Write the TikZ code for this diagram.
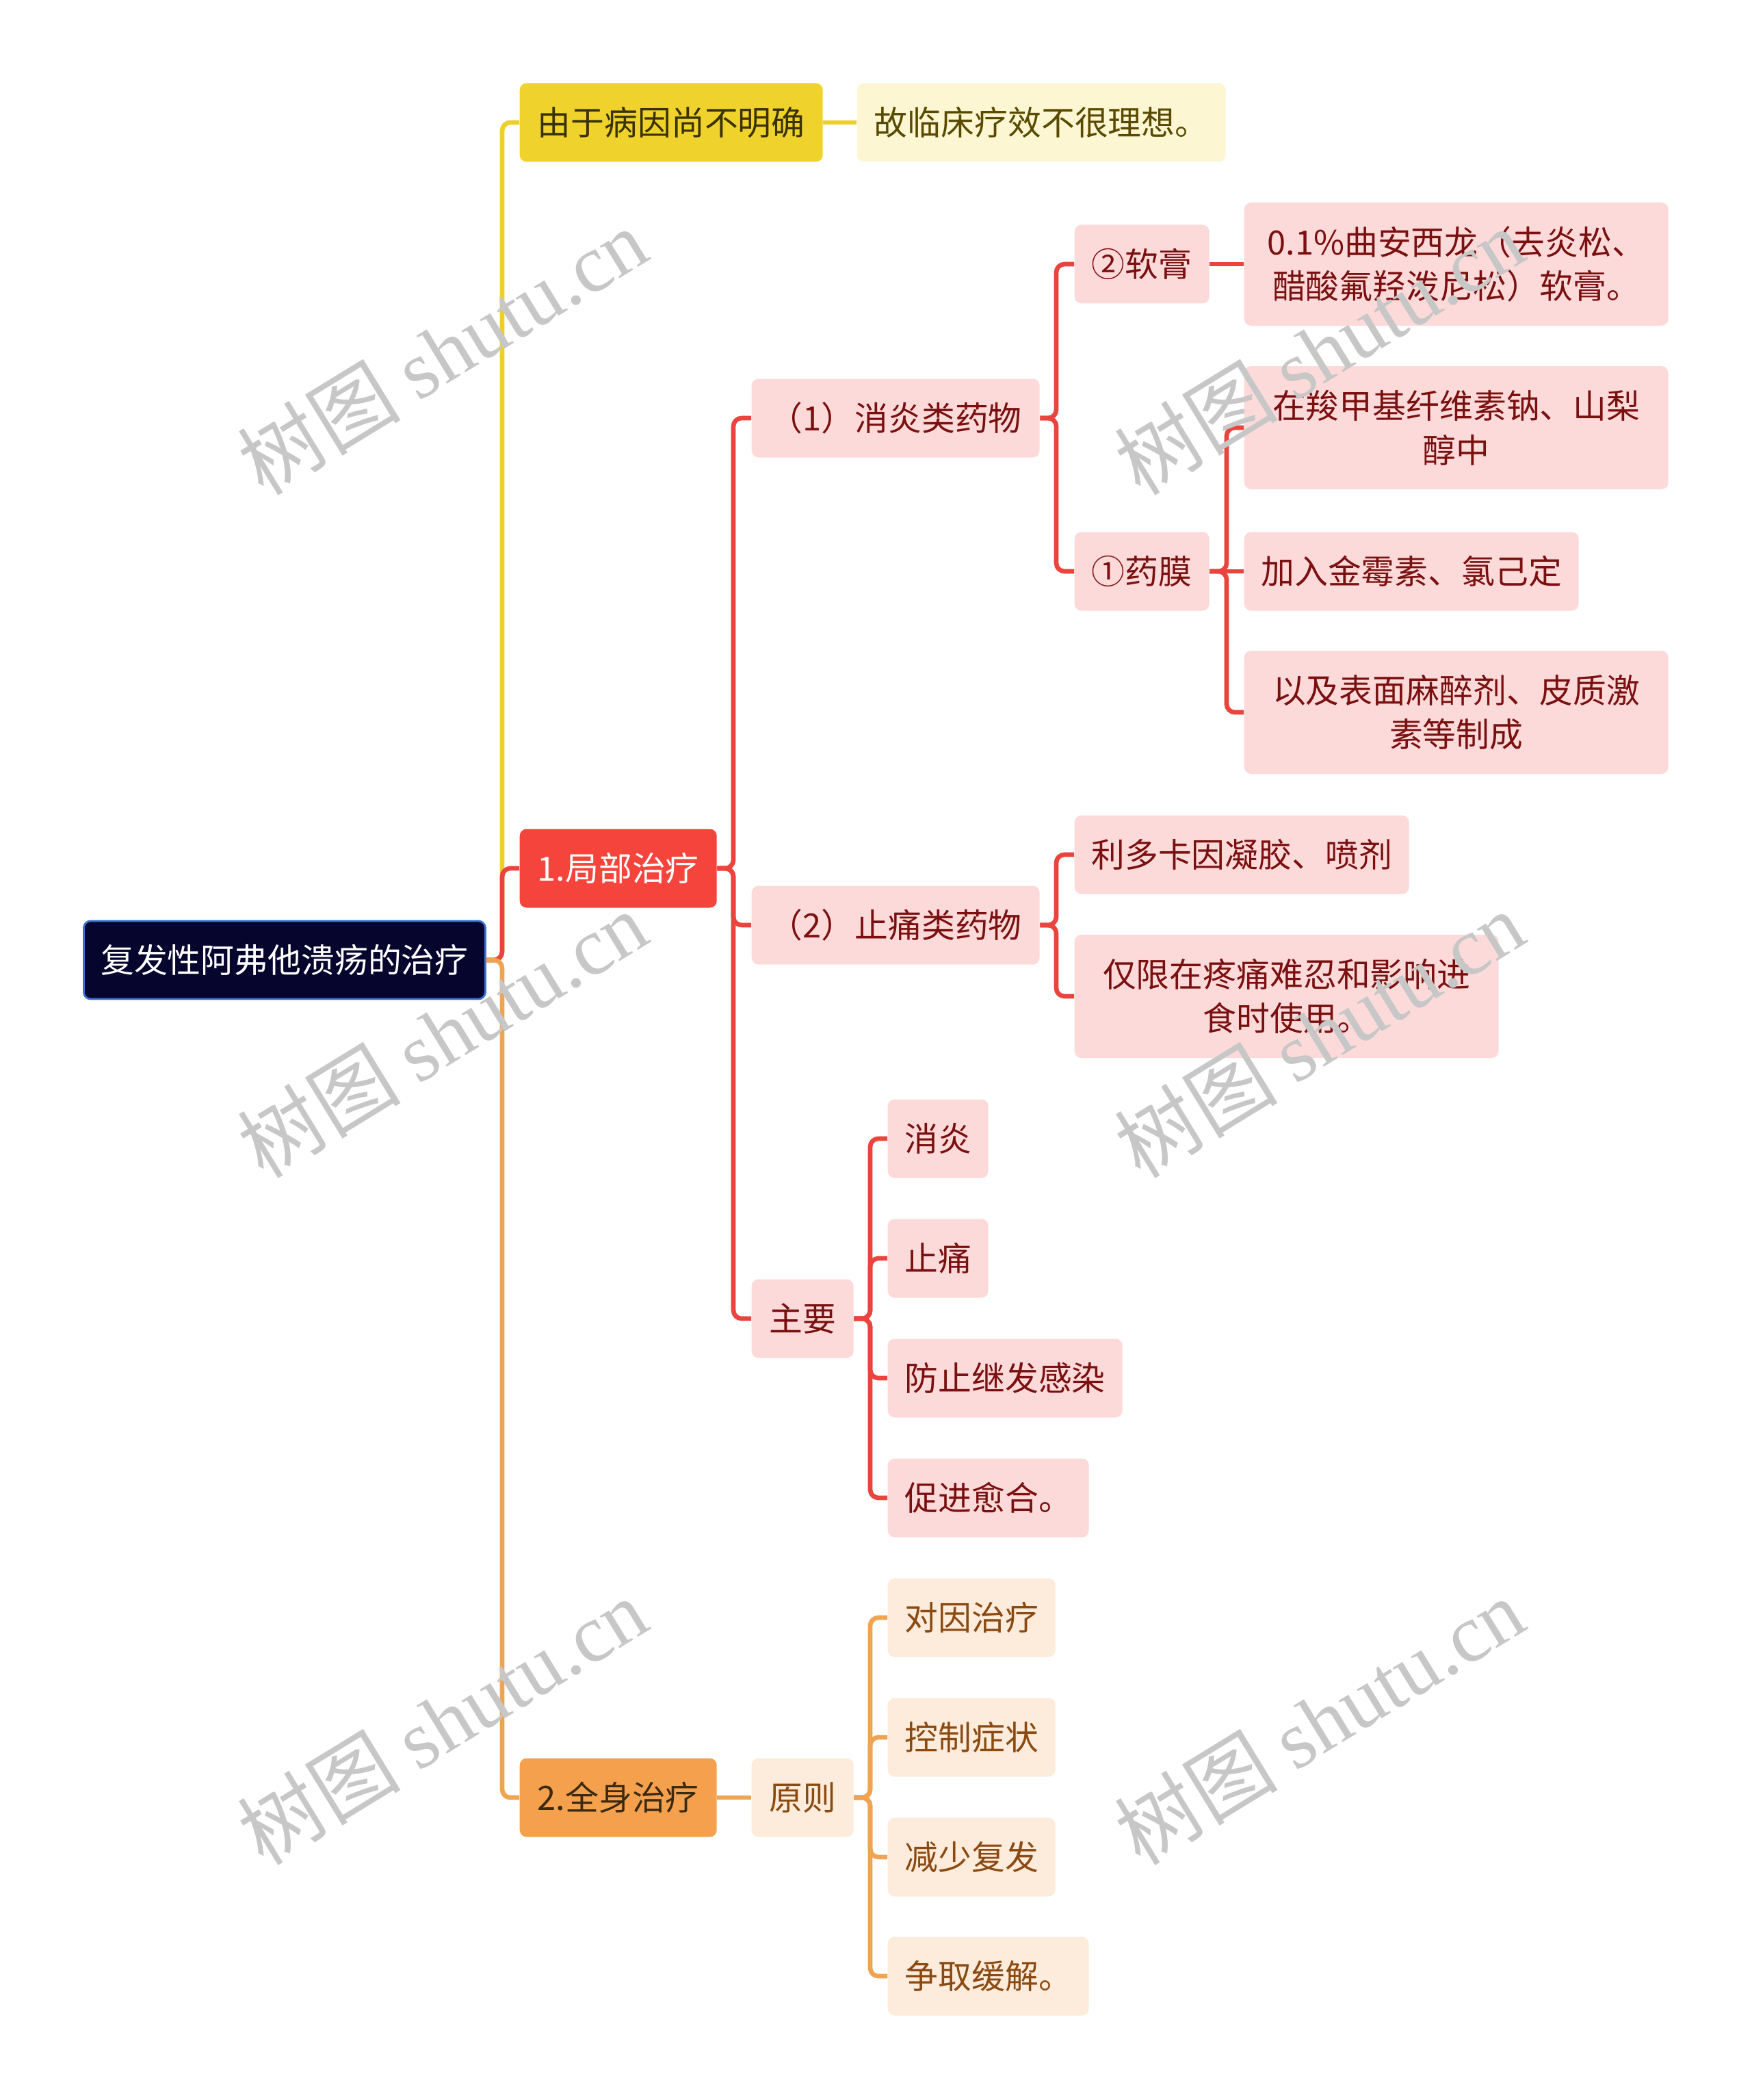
\documentclass[tikz,border=0pt]{standalone}
\usepackage{fontspec}
\setmainfont{Noto Sans CJK SC}
\newfontfamily\wmfont{Liberation Serif}
\usepackage{xcolor}
\usetikzlibrary{positioning}

\definecolor{rootfill}{HTML}{05052E}
\definecolor{rootline}{HTML}{3B6FD6}
\definecolor{yelA}{HTML}{F0D22C}
\definecolor{yelB}{HTML}{FCF6D3}
\definecolor{yelText}{HTML}{3A3200}
\definecolor{yelTextB}{HTML}{5A4A00}
\definecolor{yelLine}{HTML}{EDCE2A}
\definecolor{redA}{HTML}{F5443C}
\definecolor{redB}{HTML}{FDDADA}
\definecolor{redText}{HTML}{7A1010}
\definecolor{redLine}{HTML}{E9453E}
\definecolor{orgA}{HTML}{F5A04D}
\definecolor{orgB}{HTML}{FDEBDB}
\definecolor{orgText}{HTML}{3A2A12}
\definecolor{orgTextB}{HTML}{8A4A12}
\definecolor{orgLine}{HTML}{F0A352}

\begin{document}
\begin{tikzpicture}[x=1cm, y=-1cm,
    box/.style={anchor=west, inner sep=0pt, rounded corners=0.1cm, align=center,
      minimum height=1.15cm, font=\fontsize{13.9pt}{18.4pt}\selectfont},
    tall/.style={minimum height=1.8cm},
    rootbox/.style={box, fill=rootfill, draw=rootline, line width=0.8pt, text=white},
    yelbox/.style={box, fill=yelA, text=yelText},
    yelleaf/.style={box, fill=yelB, text=yelTextB},
    redbox/.style={box, fill=redA, text=white},
    redleaf/.style={box, fill=redB, text=redText},
    orgbox/.style={box, fill=orgA, text=orgText},
    orgleaf/.style={box, fill=orgB, text=orgTextB},
    link/.style={line width=1.9pt, rounded corners=0.12cm},
    wm/.style={text=black!22, rotate=31.5, font=\fontsize{34pt}{34pt}\selectfont}]

  \useasboundingbox (0,0) rectangle (25.6,30.69);

  % -- trunk positions ------------------------------------------------------
  \coordinate (t0) at (7.34,0);
  \coordinate (t1) at (10.72,0);
  \coordinate (t2) at (15.44,0);
  \coordinate (t3) at (17.93,0);
  \coordinate (t5) at (12.72,0);

  % -- root ---------------------------------------------------------------
  \node[rootbox, minimum width=5.87cm, minimum height=1.14cm] (root) at (1.21,14.03) {复发性阿弗他溃疡的治疗};

  % -- yellow branch ------------------------------------------------------
  \node[yelbox, minimum width=4.43cm] (cause) at (7.59,1.79) {由于病因尚不明确};
  \node[yelleaf, minimum width=5.39cm] (effect) at (12.52,1.79) {故临床疗效不很理想。};

  % -- red branch: local treatment ----------------------------------------
  \node[redbox, minimum width=2.88cm] (local) at (7.59,12.69) {1.局部治疗};
  \node[redleaf, minimum width=4.21cm] (antiinf) at (10.98,6.11) {（1）消炎类药物};
  \node[redleaf, minimum width=4.21cm] (pain) at (10.98,13.52) {（2）止痛类药物};
  \node[redleaf, minimum width=1.49cm] (main) at (10.98,19.27) {主要};

  \node[redleaf, minimum width=1.97cm] (oint) at (15.70,3.86) {②软膏};
  \node[redleaf, minimum width=1.97cm] (film) at (15.70,8.35) {①药膜};
  \node[redleaf, tall, minimum width=6.20cm] (triam) at (18.18,3.86) {0.1\%曲安西龙（去炎松、\\醋酸氟羟泼尼松）软膏。};
  \node[redleaf, tall, minimum width=6.20cm] (cmc) at (18.18,6.25) {在羧甲基纤维素钠、山梨\\醇中};
  \node[redleaf, minimum width=4.89cm] (aureo) at (18.18,8.35) {加入金霉素、氯己定};
  \node[redleaf, tall, minimum width=6.20cm] (anest) at (18.18,10.41) {以及表面麻醉剂、皮质激\\素等制成};

  \node[redleaf, minimum width=4.89cm] (lido) at (15.70,12.49) {利多卡因凝胶、喷剂};
  \node[redleaf, tall, minimum width=6.20cm] (limit) at (15.70,14.56) {仅限在疼痛难忍和影响进\\食时使用。};

  \node[redleaf, minimum width=1.47cm] (m1) at (12.97,16.64) {消炎};
  \node[redleaf, minimum width=1.47cm] (m2) at (12.97,18.39) {止痛};
  \node[redleaf, minimum width=3.43cm] (m3) at (12.97,20.14) {防止继发感染};
  \node[redleaf, minimum width=2.94cm] (m4) at (12.97,21.89) {促进愈合。};

  % -- orange branch: systemic treatment ----------------------------------
  \node[orgbox, minimum width=2.88cm] (sys) at (7.59,26.27) {2.全身治疗};
  \node[orgleaf, minimum width=1.49cm] (rule) at (10.98,26.27) {原则};
  \node[orgleaf, minimum width=2.45cm] (r1) at (12.97,23.64) {对因治疗};
  \node[orgleaf, minimum width=2.45cm] (r2) at (12.97,25.39) {控制症状};
  \node[orgleaf, minimum width=2.45cm] (r3) at (12.97,27.14) {减少复发};
  \node[orgleaf, minimum width=2.94cm] (r4) at (12.97,28.88) {争取缓解。};

  % -- connectors ---------------------------------------------------------
  \draw[link, yelLine] (root.east) -- (root.east -| t0) |- (cause.west);
  \draw[link, yelLine] (cause.east) -- (effect.west);

  \draw[link, redLine] (root.east) -- (root.east -| t0) |- (local.west);
  \foreach \c in {antiinf, pain, main}
    \draw[link, redLine] (local.east) -- (local.east -| t1) |- (\c.west);
  \foreach \c in {oint, film}
    \draw[link, redLine] (antiinf.east) -- (antiinf.east -| t2) |- (\c.west);
  \draw[link, redLine] (oint.east) -- (triam.west);
  \foreach \c in {cmc, anest}
    \draw[link, redLine] (film.east) -- (film.east -| t3) |- (\c.west);
  \draw[link, redLine] (film.east) -- (aureo.west);
  \foreach \c in {lido, limit}
    \draw[link, redLine] (pain.east) -- (pain.east -| t2) |- (\c.west);
  \foreach \c in {m1, m2, m3, m4}
    \draw[link, redLine] (main.east) -- (main.east -| t5) |- (\c.west);

  \draw[link, orgLine] (root.east) -- (root.east -| t0) |- (sys.west);
  \draw[link, orgLine] (sys.east) -- (rule.west);
  \foreach \c in {r1, r2, r3, r4}
    \draw[link, orgLine] (rule.east) -- (rule.east -| t5) |- (\c.west);

  % -- watermark ----------------------------------------------------------
  \node[wm] (wm1) at (6.46,5.13) {树图 {\wmfont shutu.cn}};
  \node[wm] (wm2) at (6.46,15.11) {树图 {\wmfont shutu.cn}};
  \node[wm] (wm3) at (6.46,25.15) {树图 {\wmfont shutu.cn}};
  \node[wm] (wm4) at (19.28,5.13) {树图 {\wmfont shutu.cn}};
  \node[wm] (wm5) at (19.28,15.11) {树图 {\wmfont shutu.cn}};
  \node[wm] (wm6) at (19.28,25.15) {树图 {\wmfont shutu.cn}};

\end{tikzpicture}
\end{document}
